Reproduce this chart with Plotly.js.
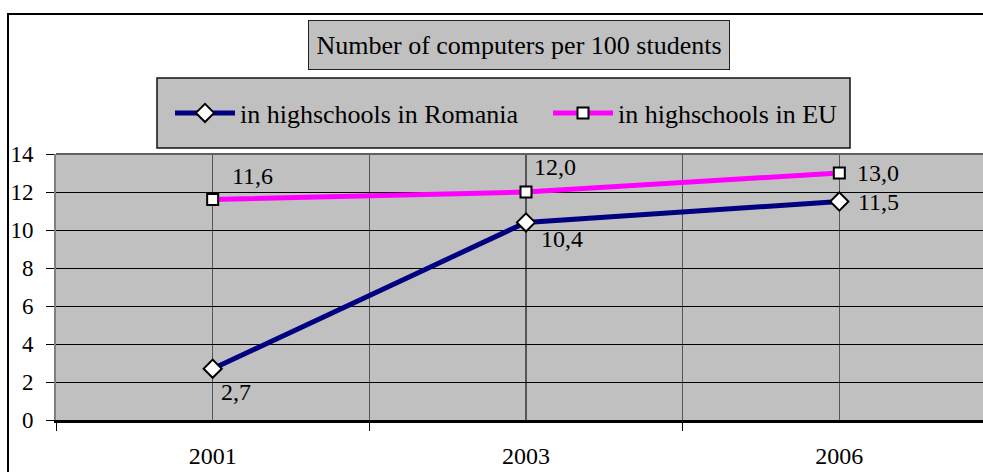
<!DOCTYPE html>
<html>
<head>
<meta charset="utf-8">
<script src="https://cdn.plot.ly/plotly-3.0.1.min.js"></script>
<style>
  html, body { margin: 0; padding: 0; width: 983px; height: 472px; overflow: hidden; background: #fff; }
  #frame { position: absolute; left: 7px; top: 13px; width: 1200px; height: 800px;
           border-left: 2px solid #000; border-top: 2px solid #000; pointer-events: none; z-index: 5; }
  #chart { position: absolute; left: 0; top: 0; }
</style>
</head>
<body>
<div id="chart"></div>
<div id="frame"></div>
<script>
// Computers per 100 students in high schools
const categories = ['2001', '2003', '2006'];
const romania = [2.7, 10.4, 11.5];
const eu = [11.6, 12.0, 13.0];
const seriesNames = ['in highschools in Romania', 'in highschools in EU'];
const chartTitle = 'Number of computers per 100 students';

const SERIF = "'Liberation Serif'";
const xs = categories.map((_, i) => i);
// boundaries between the year slots (tick marks + separating grid lines)
const slotEdges = [-0.5, 0.5, 1.5, 2.5];

// plot area: 56..996 px horizontally, 154..420 px vertically
const W = 1000, H = 472;
const M = { l: 56, r: 4, t: 154, b: 52 };
const pw = W - M.l - M.r, ph = H - M.t - M.b;
const px = X => (X - M.l) / pw;
const py = Y => (H - M.b - Y) / ph;

const fmt = v => v.toFixed(1).replace('.', ',');

const traces = [
  {
    x: xs, y: romania, name: seriesNames[0], type: 'scatter', mode: 'lines+markers',
    line: { color: '#000080', width: 5 },
    marker: { symbol: 'diamond', size: 14, color: '#fff', line: { color: '#000', width: 2 } }
  },
  {
    x: xs, y: eu, name: seriesNames[1], type: 'scatter', mode: 'lines+markers',
    line: { color: '#ff00ff', width: 5 },
    marker: { symbol: 'square', size: 11, color: '#fff', line: { color: '#000', width: 2 } }
  }
];

// value labels next to each point
const labelOffsets = {
  ro: [[23, -23], [36, -17], [39, 0]],
  eu: [[40, 24], [29, 25], [39, 0]]
};
const annotations = [];
romania.forEach((v, i) => annotations.push({
  x: xs[i], y: v, xref: 'x', yref: 'y', text: fmt(v), showarrow: false,
  xshift: labelOffsets.ro[i][0], yshift: labelOffsets.ro[i][1],
  font: { family: SERIF, size: 24, color: '#000' }
}));
eu.forEach((v, i) => annotations.push({
  x: xs[i], y: v, xref: 'x', yref: 'y', text: fmt(v), showarrow: false,
  xshift: labelOffsets.eu[i][0], yshift: labelOffsets.eu[i][1],
  font: { family: SERIF, size: 24, color: '#000' }
}));

// boxed chart title
annotations.push({
  xref: 'paper', yref: 'paper', x: px(519), y: py(45), xanchor: 'center', yanchor: 'middle',
  text: chartTitle, showarrow: false, width: 420, height: 48,
  bgcolor: '#c0c0c0', bordercolor: '#222', borderwidth: 1, borderpad: 0,
  font: { family: SERIF, size: 26, color: '#000' }
});

const layout = {
  width: W, height: H,
  margin: M,
  paper_bgcolor: '#fff',
  plot_bgcolor: '#c0c0c0',
  showlegend: true,
  legend: {
    orientation: 'h', x: px(170), y: py(113), xanchor: 'left', yanchor: 'middle',
    bgcolor: 'rgba(0,0,0,0)', borderwidth: 0,
    font: { family: SERIF, size: 26, color: '#000' },
    itemwidth: 60, entrywidth: 303, entrywidthmode: 'pixels'
  },
  xaxis: {
    type: 'linear', range: [-0.5, 2.5],
    tickmode: 'array', tickvals: xs, ticktext: categories,
    ticks: '', showgrid: true, gridcolor: '#555', gridwidth: 1.5,
    showline: true, linecolor: '#000', linewidth: 2.5,
    zeroline: false, ticklabelstandoff: 13,
    tickfont: { family: SERIF, size: 24, color: '#000' },
    minor: { tickmode: 'array', tickvals: slotEdges, ticks: 'outside', ticklen: 8,
             tickcolor: '#000', tickwidth: 1, showgrid: true, gridcolor: '#555', gridwidth: 1.5 },
    fixedrange: true
  },
  yaxis: {
    range: [0, 14], dtick: 2, ticks: 'outside', ticklen: 8, tickcolor: '#000', tickwidth: 1,
    showgrid: true, gridcolor: '#000', gridwidth: 1,
    showline: true, linecolor: '#808080', linewidth: 2,
    zeroline: false, ticklabelstandoff: 8,
    tickfont: { family: SERIF, size: 23, color: '#000' },
    fixedrange: true
  },
  shapes: [
    // legend box
    { type: 'rect', xref: 'paper', yref: 'paper', layer: 'below',
      x0: px(157), x1: px(850), y0: py(148), y1: py(78),
      fillcolor: '#c0c0c0', line: { color: '#111', width: 1.5 } },
    // top edge of the plot area
    { type: 'line', xref: 'paper', yref: 'paper', x0: 0, x1: 1, y0: 1, y1: 1,
      line: { color: '#606060', width: 2 } }
  ],
  annotations: annotations
};

Plotly.newPlot('chart', traces, layout, { displayModeBar: false, staticPlot: true });
</script>
</body>
</html>
